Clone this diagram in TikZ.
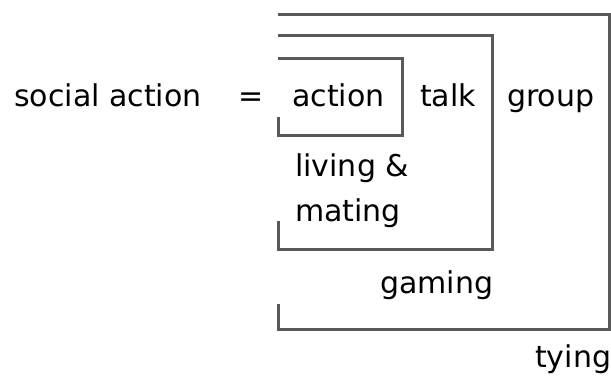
\documentclass[tikz,border=0pt]{standalone}
\usepackage{fontspec}
\setmainfont{DejaVu Sans}
\usetikzlibrary{calc}

\begin{document}
\begin{tikzpicture} [x=1pt,y=-1pt, every node/.style={inner sep=0pt, anchor=base west, font=\fontsize{30}{36}\selectfont}]
\useasboundingbox (0,0) rectangle (611,376);
\foreach \r/\t/\b/\k in {402/58/135/117, 492/35/249/221, 609/14/329/304} {
 \draw[black!65, line width=3pt] (278,\k) --(278,\b) --(\r,\b) --(\r,\t) --(278,\t);
}
\draw[black!65, line width=3pt] (609,14)--(611,14);
\node (social) at (14,106) {social action};
\node (eq) at (238,106) {=};
\node (action) at (292,106) {action};
\node (talk) at (420,106) {talk};
\node (group) at (507,106) {group};
\node (living) at (295,176) {living \&};
\node (mating) at (295,221) {mating};
\node (gaming) at (380,293) {gaming};
\node (tying) at (535,367) {tying};
\end{tikzpicture}
\end{document}
